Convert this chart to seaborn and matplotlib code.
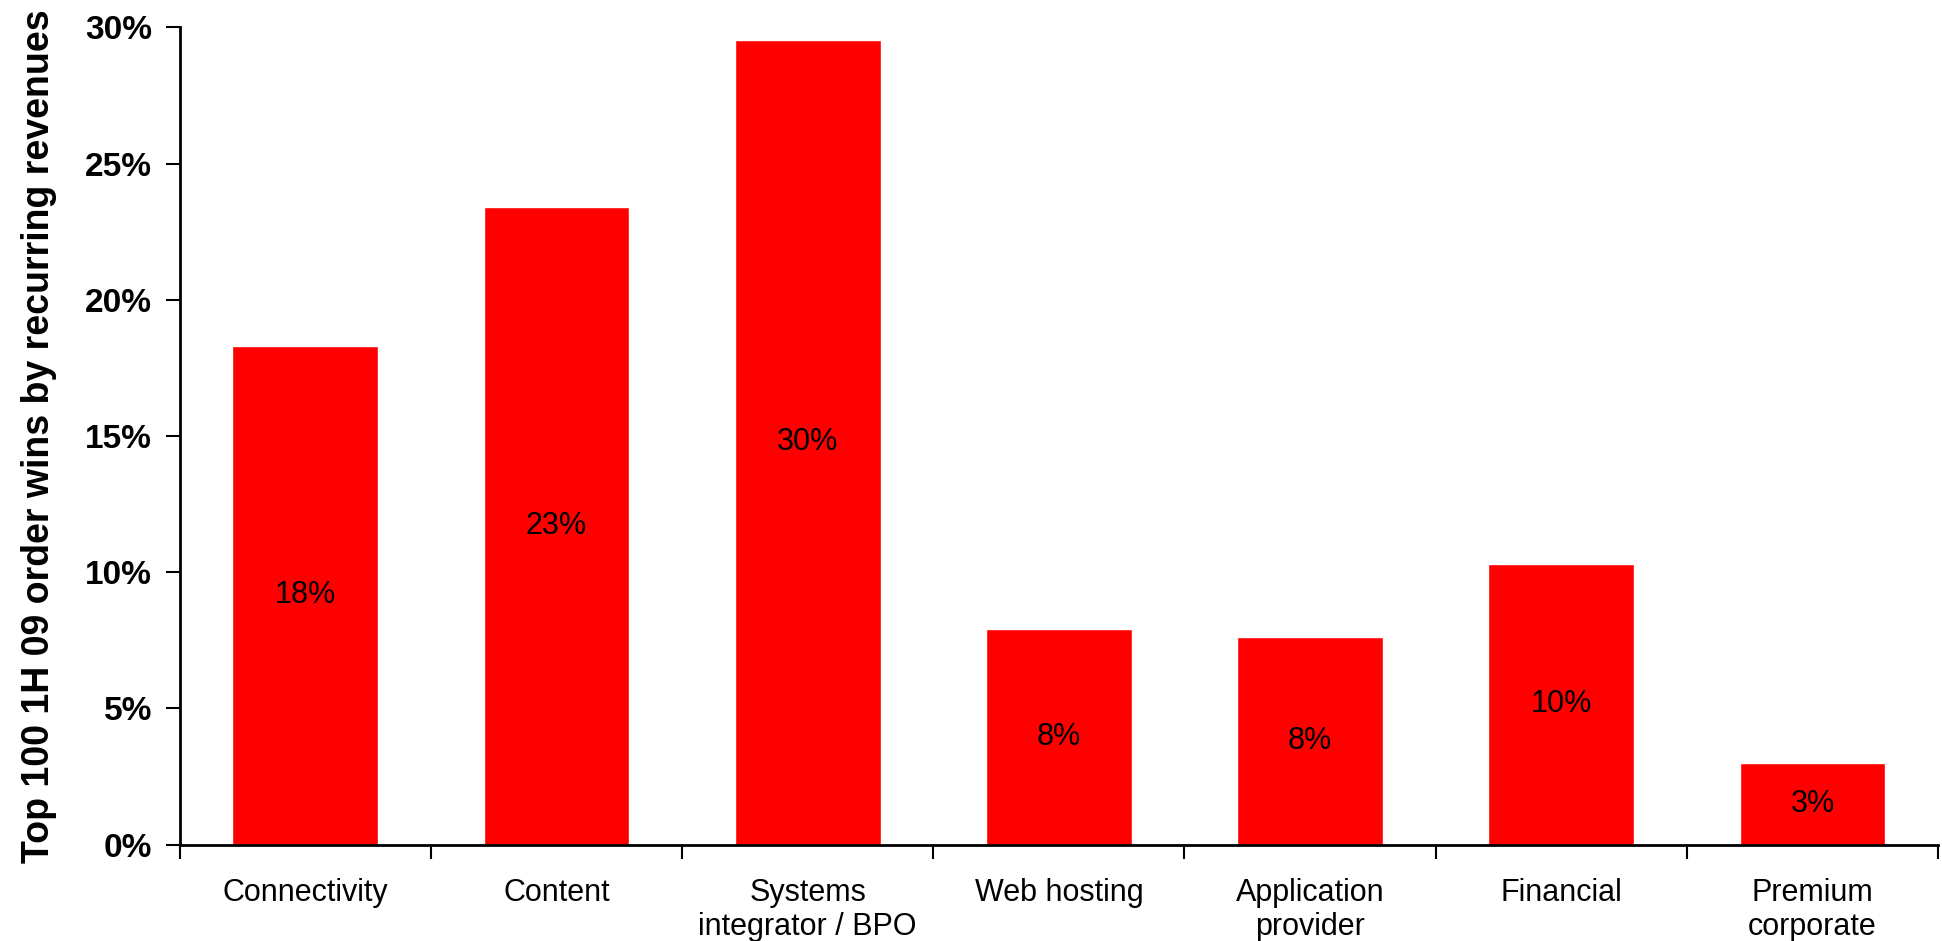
import matplotlib
matplotlib.use("Agg")
import matplotlib.pyplot as plt
import seaborn as sns
import pandas as pd
from matplotlib.ticker import FixedLocator, FuncFormatter

# Share of top-100 1H 09 order wins by recurring revenues, per customer segment
categories = ["Connectivity", "Content", "Systems\nintegrator / BPO", "Web hosting",
              "Application\nprovider", "Financial", "Premium\ncorporate"]
shares = [18.3, 23.4, 29.55, 7.9, 7.64, 10.3, 3.0]

y_ticks = [0, 5, 10, 15, 20, 25, 30]
y_label = "Top 100 1H 09 order wins by recurring revenues"

sns.set_theme(style="white")
plt.rcParams["font.family"] = ["Liberation Sans", "DejaVu Sans"]
plt.rcParams["text.color"] = "black"
plt.rcParams["axes.labelcolor"] = "black"
plt.rcParams["xtick.color"] = "black"
plt.rcParams["ytick.color"] = "black"

df = pd.DataFrame({"segment": categories, "share": shares})

fig = plt.figure(figsize=(19.42, 9.41), dpi=100)
ax = fig.add_axes([0.0925, 0.1023, 0.9055, 0.8687])

sns.barplot(data=df, x="segment", y="share", color="#FF0000", saturation=1,
            width=0.58, ax=ax)

ax.set_xlim(-0.5, len(categories) - 0.5)
ax.set_ylim(0, 30)
ax.set_yticks(y_ticks)
ax.yaxis.set_major_formatter(FuncFormatter(lambda v, _: f"{v:.0f}%"))

# Value labels in the middle of each bar
for i, v in enumerate(shares):
    ax.text(i, v / 2, f"{round(v):.0f}%", ha="center", va="center",
            fontsize=22, color="black")

# Category names under bars, tick marks between categories
ax.set_xticks(range(len(categories)))
ax.set_xticklabels(categories, fontsize=22, linespacing=1.15, va="top", color="black")
ax.xaxis.set_minor_locator(FixedLocator([i - 0.5 for i in range(len(categories) + 1)]))
ax.tick_params(axis="x", which="major", length=0, pad=24)
ax.tick_params(axis="x", which="minor", length=10, width=1.5, color="black",
               direction="out", bottom=True)
ax.tick_params(axis="y", which="major", length=10, width=1.5, color="black",
               direction="out", left=True, pad=10, labelsize=24, labelcolor="black")
for lbl in ax.get_yticklabels():
    lbl.set_fontweight("bold")

ax.set_xlabel("")
ax.set_ylabel(y_label, fontsize=27, fontweight="bold", labelpad=20, color="black")

for side in ("top", "right"):
    ax.spines[side].set_visible(False)
for side in ("left", "bottom"):
    ax.spines[side].set_color("black")
    ax.spines[side].set_linewidth(2)

ax.grid(False)
fig.savefig("out.png", dpi=100, facecolor="white")
